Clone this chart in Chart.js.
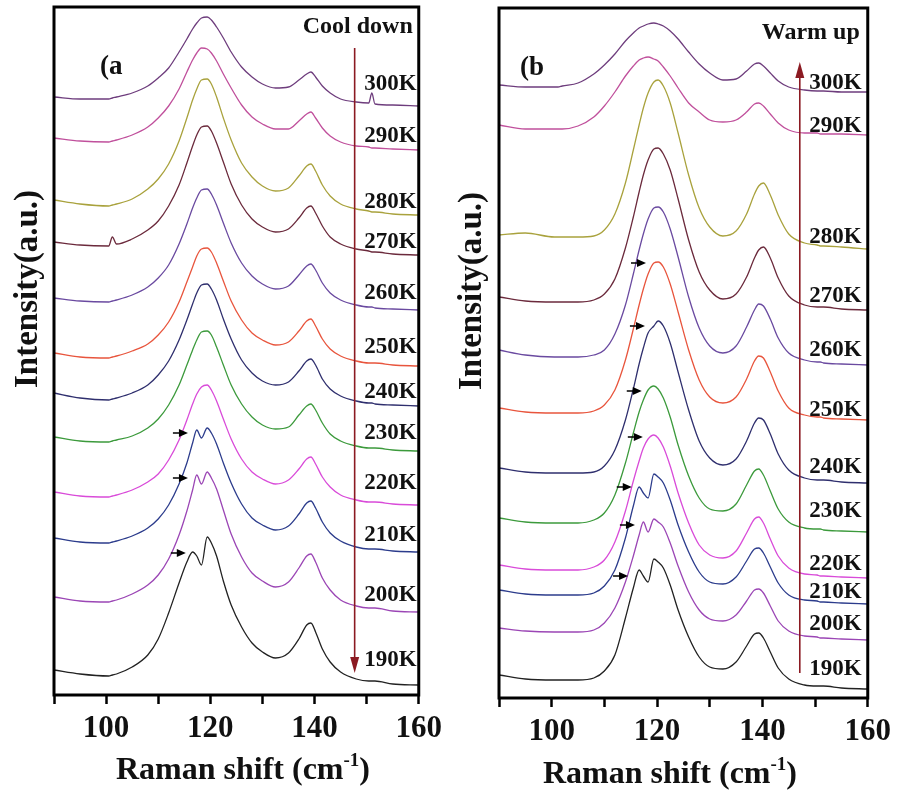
<!DOCTYPE html>
<html lang="en">
<head>
  <meta charset="UTF-8">
  <title>Raman spectra – cool down / warm up</title>
  <style>
    html, body { margin: 0; background: #fff; }
    canvas { position: absolute; top: 0; }
    #coolChart { left: 0; }
    #warmChart { left: 448px; }
  </style>
</head>
<body>
  <canvas id="coolChart" width="448" height="792"></canvas>
  <canvas id="warmChart" width="449" height="792"></canvas>
  <script src="https://cdn.jsdelivr.net/npm/chart.js"></script>
  <script>
    // Raman shift (cm-1) sample positions shared by every spectrum
    const ramanShift = [90, 95, 100.5, 101.2, 102, 105, 108, 110, 112, 114, 115.5, 116.6, 117.4, 118.3, 119.4,
      120.2, 121.2, 122.5, 124, 126, 128, 130, 132.5, 135, 137, 138.5, 139.3, 140.2, 141.5, 143, 145, 148,
      150.4, 151, 151.6, 155, 160];

    const temperatures = ['300K', '290K', '280K', '270K', '260K', '250K', '240K', '230K', '220K', '210K', '200K', '190K'];
    const lineColors = ['#6e3d7d', '#c0509c', '#a9a23d', '#6b2a3c', '#6a4aa0', '#e8553d',
      '#2f2f6e', '#3c9a3c', '#d94bd9', '#2c3c8c', '#9b46b5', '#222222'];

    // (a) cool down – stacked intensities (a.u.)
    const cool300 = [598, 596, 596, 597, 598, 602, 609, 617, 627, 643, 656, 666, 672, 677, 678, 675, 668, 657, 643, 628, 618, 611, 607, 608, 615, 621, 623, 618, 609, 602, 596, 593, 592, 602, 591, 590, 589];
    const cool290 = [557, 554, 553, 554, 555, 560, 568, 577, 589, 606, 623, 635, 642, 647, 646, 642, 634, 621, 607, 590, 578, 571, 566, 566, 574, 581, 583, 577, 567, 559, 553, 549, 548, 547, 547, 546, 545];
    const cool280 = [495, 491, 489, 490, 491, 496, 506, 516, 531, 554, 577, 595, 606, 615, 616, 611, 598, 577, 555, 532, 518, 509, 504, 507, 519, 529, 531, 524, 510, 499, 491, 486, 484, 483, 483, 481, 480];
    const cool270 = [453, 450, 449, 458, 451, 456, 465, 474, 489, 510, 532, 549, 560, 568, 569, 564, 552, 533, 511, 490, 476, 468, 463, 466, 477, 487, 489, 482, 469, 458, 451, 446, 444, 443, 443, 441, 440];
    const cool260 = [397, 394, 393, 394, 395, 400, 408, 417, 430, 451, 471, 487, 497, 505, 506, 501, 490, 472, 452, 432, 419, 411, 406, 409, 420, 429, 431, 425, 412, 402, 395, 390, 388, 388, 387, 386, 385];
    const cool250 = [342, 338, 337, 338, 339, 344, 351, 360, 373, 393, 413, 428, 439, 446, 447, 443, 432, 414, 394, 375, 362, 355, 350, 353, 364, 374, 376, 369, 356, 346, 339, 334, 332, 332, 332, 330, 329];
    const cool240 = [302, 297, 295, 296, 297, 302, 310, 320, 334, 355, 375, 391, 402, 410, 411, 406, 395, 376, 356, 335, 322, 314, 310, 313, 324, 334, 336, 330, 316, 306, 299, 294, 292, 292, 291, 290, 289];
    const cool230 = [258, 254, 253, 254, 255, 259, 267, 276, 290, 310, 330, 345, 355, 363, 364, 360, 348, 330, 310, 291, 278, 270, 266, 268, 280, 289, 291, 285, 272, 261, 254, 249, 247, 247, 247, 245, 244];
    const cool220 = [203, 199, 198, 199, 200, 205, 213, 221, 235, 255, 275, 291, 301, 308, 310, 305, 294, 276, 256, 236, 223, 216, 211, 215, 226, 236, 238, 231, 218, 208, 200, 195, 193, 193, 193, 191, 190];
    const cool210 = [157, 153, 152, 153, 154, 159, 167, 176, 190, 211, 232, 252, 265, 257, 267, 262, 251, 232, 212, 191, 177, 170, 165, 169, 181, 192, 194, 187, 173, 162, 154, 148, 146, 146, 146, 144, 143];
    const cool200 = [98, 94, 93, 94, 95, 101, 110, 120, 136, 160, 184, 205, 220, 211, 223, 217, 206, 185, 161, 138, 122, 114, 108, 113, 127, 139, 141, 133, 117, 105, 95, 89, 87, 87, 87, 84, 83];
    const cool190 = [25, 21, 19, 20, 21, 28, 40, 56, 82, 112, 133, 143, 139, 130, 158, 152, 139, 114, 90, 68, 52, 43, 37, 42, 56, 70, 72, 63, 46, 33, 23, 16, 14, 14, 14, 11, 10];

    // (b) warm up – stacked intensities (a.u.)
    const warm300 = [613, 611, 611, 611, 612, 615, 624, 633, 644, 657, 665, 670, 672, 674, 675, 674, 672, 667, 659, 646, 634, 625, 618, 619, 627, 634, 635, 632, 625, 617, 611, 608, 607, 607, 607, 606, 606];
    const warm290 = [573, 569, 569, 569, 569, 572, 581, 592, 606, 622, 632, 638, 640, 641, 639, 637, 631, 622, 610, 595, 586, 578, 576, 578, 586, 594, 595, 592, 584, 575, 568, 565, 565, 564, 564, 564, 563];
    const warm280 = [463, 465, 461, 461, 461, 461, 462, 468, 484, 515, 548, 573, 590, 605, 616, 618, 612, 595, 565, 523, 490, 471, 462, 467, 484, 504, 512, 515, 503, 483, 464, 455, 453, 452, 452, 451, 449];
    const warm270 = [401, 397, 396, 396, 396, 396, 398, 404, 419, 450, 481, 506, 523, 538, 549, 550, 544, 528, 499, 458, 426, 408, 399, 404, 421, 440, 448, 451, 440, 420, 402, 393, 391, 391, 391, 389, 388];
    const warm260 = [348, 343, 341, 341, 341, 341, 343, 348, 364, 393, 424, 448, 464, 479, 490, 491, 486, 469, 441, 401, 370, 352, 345, 352, 371, 388, 394, 392, 379, 360, 345, 338, 336, 336, 335, 334, 333];
    const warm250 = [290, 286, 285, 285, 285, 285, 287, 293, 308, 338, 369, 393, 409, 424, 435, 436, 431, 414, 386, 348, 318, 301, 295, 301, 319, 337, 342, 340, 326, 307, 290, 283, 281, 281, 280, 279, 278];
    const warm240 = [230, 226, 225, 225, 225, 225, 226, 232, 248, 278, 309, 334, 350, 365, 372, 377, 372, 355, 326, 288, 257, 240, 233, 239, 257, 275, 280, 278, 264, 244, 228, 220, 218, 218, 218, 216, 215];
    const warm230 = [180, 176, 175, 175, 175, 175, 178, 185, 203, 235, 265, 286, 298, 308, 312, 309, 300, 281, 253, 222, 200, 189, 187, 194, 213, 227, 229, 223, 207, 189, 176, 170, 169, 169, 168, 167, 166];
    const warm220 = [133, 129, 128, 128, 128, 128, 131, 138, 156, 187, 217, 237, 250, 259, 263, 260, 251, 232, 205, 175, 153, 143, 140, 147, 165, 179, 181, 175, 159, 142, 130, 124, 123, 122, 122, 121, 120];
    const warm210 = [108, 104, 103, 103, 103, 103, 105, 112, 128, 160, 192, 211, 205, 200, 224, 221, 215, 198, 173, 146, 126, 116, 114, 121, 137, 149, 150, 145, 131, 115, 103, 98, 97, 96, 96, 95, 94];
    const warm200 = [70, 67, 66, 66, 66, 66, 68, 75, 90, 116, 142, 163, 176, 166, 179, 176, 171, 155, 132, 106, 88, 79, 77, 83, 97, 108, 109, 105, 92, 77, 67, 62, 61, 60, 60, 59, 58];
    const warm190 = [23, 19, 18, 18, 18, 18, 20, 27, 43, 80, 110, 128, 122, 116, 139, 136, 130, 113, 88, 61, 41, 31, 29, 36, 52, 64, 65, 60, 46, 30, 19, 13, 12, 12, 12, 10, 9];

    const coolSeries = [cool300, cool290, cool280, cool270, cool260, cool250, cool240, cool230, cool220, cool210, cool200, cool190];
    const warmSeries = [warm300, warm290, warm280, warm270, warm260, warm250, warm240, warm230, warm220, warm210, warm200, warm190];

    const FONT = '"Liberation Serif", "Times New Roman", serif';

    // draws frame, arrows, temperature labels and axis titles
    function makeDecor(cfg) {
      return {
        id: 'decor',
        afterDatasetsDraw(chart) {
          const { ctx, chartArea: a, scales: { x, y } } = chart;
          ctx.save();

          ctx.strokeStyle = '#000';
          ctx.lineWidth = 3;
          ctx.strokeRect(a.left, a.top, a.right - a.left, a.bottom - a.top);

          // temperature trend arrow
          const tx = x.getPixelForValue(cfg.trend.shift);
          const ty0 = y.getPixelForValue(cfg.trend.from);
          const ty1 = y.getPixelForValue(cfg.trend.to);
          const dir = Math.sign(ty1 - ty0);
          ctx.strokeStyle = '#8b1a22';
          ctx.fillStyle = '#8b1a22';
          ctx.lineWidth = 1.6;
          ctx.beginPath();
          ctx.moveTo(tx, ty0);
          ctx.lineTo(tx, ty1 - dir * 12);
          ctx.stroke();
          ctx.beginPath();
          ctx.moveTo(tx, ty1);
          ctx.lineTo(tx - 4.5, ty1 - dir * 16);
          ctx.lineTo(tx + 4.5, ty1 - dir * 16);
          ctx.closePath();
          ctx.fill();

          // small arrows marking the split peak
          ctx.fillStyle = '#000';
          ctx.strokeStyle = '#000';
          ctx.lineWidth = 1.5;
          cfg.marks.tips.forEach((t, i) => {
            const px = x.getPixelForValue(t);
            const py = y.getPixelForValue(cfg.marks.levels[i]);
            ctx.beginPath();
            ctx.moveTo(px, py);
            ctx.lineTo(px - 9, py - 4);
            ctx.lineTo(px - 9, py + 4);
            ctx.closePath();
            ctx.fill();
            ctx.beginPath();
            ctx.moveTo(px - 15, py);
            ctx.lineTo(px - 8, py);
            ctx.stroke();
          });

          ctx.fillStyle = '#111';
          ctx.textBaseline = 'middle';
          ctx.textAlign = 'right';
          ctx.font = 'bold 23px ' + FONT;
          temperatures.forEach((t, i) => {
            ctx.fillText(t, a.right - cfg.labelInset, y.getPixelForValue(cfg.labelLevels[i]));
          });

          ctx.font = 'bold 24px ' + FONT;
          ctx.fillText(cfg.caption, a.right - cfg.captionInset, a.top + cfg.captionDrop);

          ctx.textAlign = 'left';
          ctx.font = 'bold 27px ' + FONT;
          ctx.fillText(cfg.panel, a.left + cfg.panelInset, a.top + 60);

          // y title
          ctx.save();
          ctx.translate(cfg.yTitleX, cfg.yTitleY);
          ctx.rotate(-Math.PI / 2);
          ctx.textAlign = 'center';
          ctx.font = 'bold 33px ' + FONT;
          ctx.fillText('Intensity(a.u.)', 0, 0);
          ctx.restore();

          // x title with superscript
          ctx.textBaseline = 'alphabetic';
          const big = 'bold 32px ' + FONT, small = 'bold 19px ' + FONT;
          const parts = [['Raman shift (cm', big, 0], ['-1', small, -13], [')', big, 0]];
          let total = 0;
          parts.forEach(p => { ctx.font = p[1]; total += ctx.measureText(p[0]).width; });
          let cx = cfg.xTitleX - total / 2;
          parts.forEach(p => {
            ctx.font = p[1];
            ctx.fillText(p[0], cx, cfg.xTitleY + p[2]);
            cx += ctx.measureText(p[0]).width;
          });
          ctx.restore();
        }
      };
    }

    function buildChart(id, series, cfg) {
      return new Chart(document.getElementById(id), {
        type: 'line',
        data: {
          datasets: series.map((vals, i) => ({
            label: temperatures[i],
            data: vals.map((v, k) => ({ x: ramanShift[k], y: v })),
            borderColor: lineColors[i],
            borderWidth: 1.3,
            pointRadius: 0,
            fill: false,
            cubicInterpolationMode: 'monotone'
          }))
        },
        options: {
          responsive: false,
          animation: false,
          devicePixelRatio: 1,
          layout: { padding: { top: cfg.padTop, right: cfg.padRight, left: 0, bottom: 0 } },
          plugins: { legend: { display: false }, tooltip: { enabled: false } },
          scales: {
            x: {
              type: 'linear', min: 90, max: 160,
              ticks: {
                stepSize: 10, autoSkip: false, maxRotation: 0, padding: 6, color: '#111',
                font: { family: FONT, size: 31, weight: 'bold' },
                callback: v => (v % 20 === 0 ? v : '')
              },
              grid: { display: true, drawOnChartArea: false, drawTicks: true, tickLength: 9, tickWidth: 2.5, tickColor: '#000' },
              border: { display: false },
              afterFit: s => { s.height = cfg.xHeight; }
            },
            y: {
              min: 0, max: cfg.yMax,
              ticks: { display: false },
              grid: { display: false },
              border: { display: false },
              afterFit: s => { s.width = cfg.yWidth; }
            }
          }
        },
        plugins: [makeDecor(cfg)]
      });
    }

    buildChart('coolChart', coolSeries, {
      padTop: 7, padRight: 24, xHeight: 97, yWidth: 54, yMax: 688,
      trend: { shift: 147.7, from: 647, to: 22 },
      marks: { tips: [115.7, 115.7, 115.3], levels: [262, 217, 142] },
      labelLevels: [611, 559, 493, 453, 402, 348, 303, 262, 212, 160, 100, 35],
      labelInset: 2, caption: 'Cool down', captionInset: 6, captionDrop: 20,
      panel: '(a', panelInset: 46,
      yTitleX: 28, yTitleY: 289, xTitleX: 243, xTitleY: 779
    });

    buildChart('warmChart', warmSeries, {
      padTop: 8, padRight: 29, xHeight: 94, yWidth: 51, yMax: 690,
      trend: { shift: 147.1, from: 25, to: 636 },
      marks: { tips: [117.9, 117.7, 117.1, 117.3, 115.2, 115.8, 114.5], levels: [435, 372, 307, 261, 211, 173, 122] },
      labelLevels: [615, 572, 461, 402, 348, 288, 231, 187, 134, 106, 74, 29],
      labelInset: 6, caption: 'Warm up', captionInset: 8, captionDrop: 25,
      panel: '(b', panelInset: 21,
      yTitleX: 24, yTitleY: 291, xTitleX: 222, xTitleY: 783
    });
  </script>
</body>
</html>
